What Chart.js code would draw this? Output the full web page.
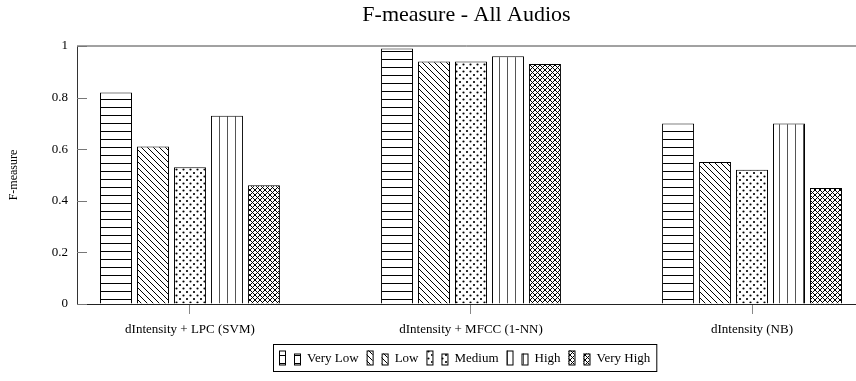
<!DOCTYPE html>
<html>
<head>
<meta charset="utf-8">
<script src="https://cdn.jsdelivr.net/npm/chart.js@4.4.1/dist/chart.umd.min.js"></script>
<style>
  html, body { margin: 0; padding: 0; background: #fff; }
  #wrap { width: 856px; height: 381px; }
</style>
</head>
<body>
<div id="wrap"><canvas id="chart"></canvas></div>
<script>
const groups = ["dIntensity + LPC (SVM)", "dIntensity + MFCC (1-NN)", "dIntensity (NB)"];
const levels = ["Very Low", "Low", "Medium", "High", "Very High"];
const veryLow = [0.82, 0.99, 0.70];
const low = [0.61, 0.94, 0.55];
const medium = [0.53, 0.94, 0.52];
const high = [0.73, 0.96, 0.70];
const veryHigh = [0.46, 0.93, 0.45];
const yTicks = [0, 0.2, 0.4, 0.6, 0.8, 1];

const FONT = '"Liberation Serif", "Times New Roman", serif';

// small tiles for the pgfplots-like fill patterns
function makePattern(kind) {
  const c = document.createElement("canvas");
  const s = { hlines: 8, nwlines: 6, dots: 7, vlines: 8, cross: 5 }[kind];
  c.width = s;
  c.height = s;
  const g = c.getContext("2d");
  g.fillStyle = "#fff";
  g.fillRect(0, 0, s, s);
  g.fillStyle = "#000";
  g.strokeStyle = "#000";
  g.lineWidth = 1;
  if (kind === "hlines") {
    g.fillRect(0, 3, s, 1);
  } else if (kind === "vlines") {
    g.fillStyle = "#555";
    g.fillRect(3, 0, 1, s);
  } else if (kind === "dots") {
    g.beginPath();
    g.arc(1.5, 1.5, 1.1, 0, Math.PI * 2);
    g.arc(5, 5, 1.1, 0, Math.PI * 2);
    g.fill();
  } else {
    g.beginPath();
    g.moveTo(-1, -1); g.lineTo(s + 1, s + 1);
    g.moveTo(-1, s - 1); g.lineTo(1, s + 1);
    g.moveTo(s - 1, -1); g.lineTo(s + 1, 1);
    if (kind === "cross") {
      g.moveTo(s + 1, -1); g.lineTo(-1, s + 1);
      g.moveTo(1, -1); g.lineTo(-1, 1);
      g.moveTo(s + 1, s - 1); g.lineTo(s - 1, s + 1);
    }
    g.stroke();
  }
  return document.getElementById("chart").getContext("2d").createPattern(c, "repeat");
}

const kinds = ["hlines", "nwlines", "dots", "vlines", "cross"];
const patterns = kinds.map(makePattern);
const series = [veryLow, low, medium, high, veryHigh];

const axisExtras = {
  id: "axisExtras",
  afterDraw(chart) {
    const { ctx, chartArea: a, scales } = chart;
    ctx.save();
    // top frame line
    ctx.strokeStyle = "#444";
    ctx.lineWidth = 1;
    ctx.beginPath();
    ctx.moveTo(a.left, a.top);
    ctx.lineTo(a.right, a.top);
    ctx.stroke();
    // inward y ticks
    ctx.strokeStyle = "#777";
    yTicks.forEach((v) => {
      const y = Math.round(scales.y.getPixelForValue(v)) + 0.5;
      ctx.beginPath();
      ctx.moveTo(a.left, y);
      ctx.lineTo(a.left + 10, y);
      ctx.stroke();
    });

    // legend: two small bars per entry, pgfplots style
    ctx.font = "13px " + FONT;
    ctx.textBaseline = "middle";
    const top = 344, h = 27, mid = top + h / 2;
    const widths = levels.map((t) => ctx.measureText(t).width);
    let total = 6;
    widths.forEach((w) => (total += 28 + w + 8));
    total -= 2;
    let x = 273;
    ctx.strokeStyle = "#000";
    ctx.lineWidth = 1;
    ctx.strokeRect(x + 0.5, top + 0.5, total, h);
    x += 6;
    levels.forEach((t, i) => {
      ctx.fillStyle = patterns[i];
      ctx.fillRect(x, mid - 7, 6, 14);
      ctx.strokeRect(x + 0.5, mid - 7 + 0.5, 6, 14);
      ctx.fillRect(x + 15, mid - 4, 6, 11);
      ctx.strokeRect(x + 15.5, mid - 4 + 0.5, 6, 11);
      x += 28;
      ctx.fillStyle = "#000";
      ctx.fillText(t, x, mid + 1);
      x += widths[i] + 8;
    });
    ctx.restore();
  },
};

new Chart(document.getElementById("chart"), {
  type: "bar",
  data: {
    datasets: series.map((vals, i) => ({
      label: levels[i],
      data: vals.map((v, j) => ({ x: j, y: v })),
      backgroundColor: patterns[i],
      borderColor: "#000",
      borderWidth: 1,
      categoryPercentage: 0.658,
      barPercentage: 0.865,
    })),
  },
  options: {
    responsive: true,
    maintainAspectRatio: false,
    animation: false,
    layout: { padding: { left: 0, right: 0, top: 0, bottom: 42 } },
    plugins: {
      legend: { display: false },
      tooltip: { enabled: false },
      title: {
        display: true,
        text: "F-measure - All Audios",
        fullSize: false,
        color: "#000",
        font: { family: FONT, size: 22, weight: "normal" },
        padding: { top: 2, bottom: 17.6 },
      },
    },
    scales: {
      x: {
        type: "linear",
        offset: false,
        min: -0.402,
        max: 2.37,
        afterBuildTicks: (scale) => {
          scale.ticks = groups.map((g, i) => ({ value: i }));
        },
        afterFit: (scale) => {
          scale.height = 35;
        },
        grid: { offset: false, drawOnChartArea: false, drawTicks: true, tickLength: 10, color: "#888" },
        border: { display: true, color: "#222", width: 1 },
        ticks: {
          color: "#000",
          padding: 8,
          maxRotation: 0,
          autoSkip: false,
          font: { family: FONT, size: 13 },
          callback: (v) => groups[v],
        },
      },
      y: {
        min: 0,
        max: 1,
        afterBuildTicks: (scale) => {
          scale.ticks = yTicks.map((v) => ({ value: v }));
        },
        afterFit: (scale) => {
          scale.width = 77;
        },
        grid: { drawOnChartArea: false, drawTicks: false },
        border: { display: true, color: "#333", width: 1 },
        title: {
          display: true,
          text: "F-measure",
          color: "#000",
          font: { family: FONT, size: 12 },
          padding: { top: 7, bottom: 0 },
        },
        ticks: {
          color: "#000",
          padding: 9,
          font: { family: FONT, size: 13 },
          callback: (v) => String(v),
        },
      },
    },
  },
  plugins: [axisExtras],
});
</script>
</body>
</html>
